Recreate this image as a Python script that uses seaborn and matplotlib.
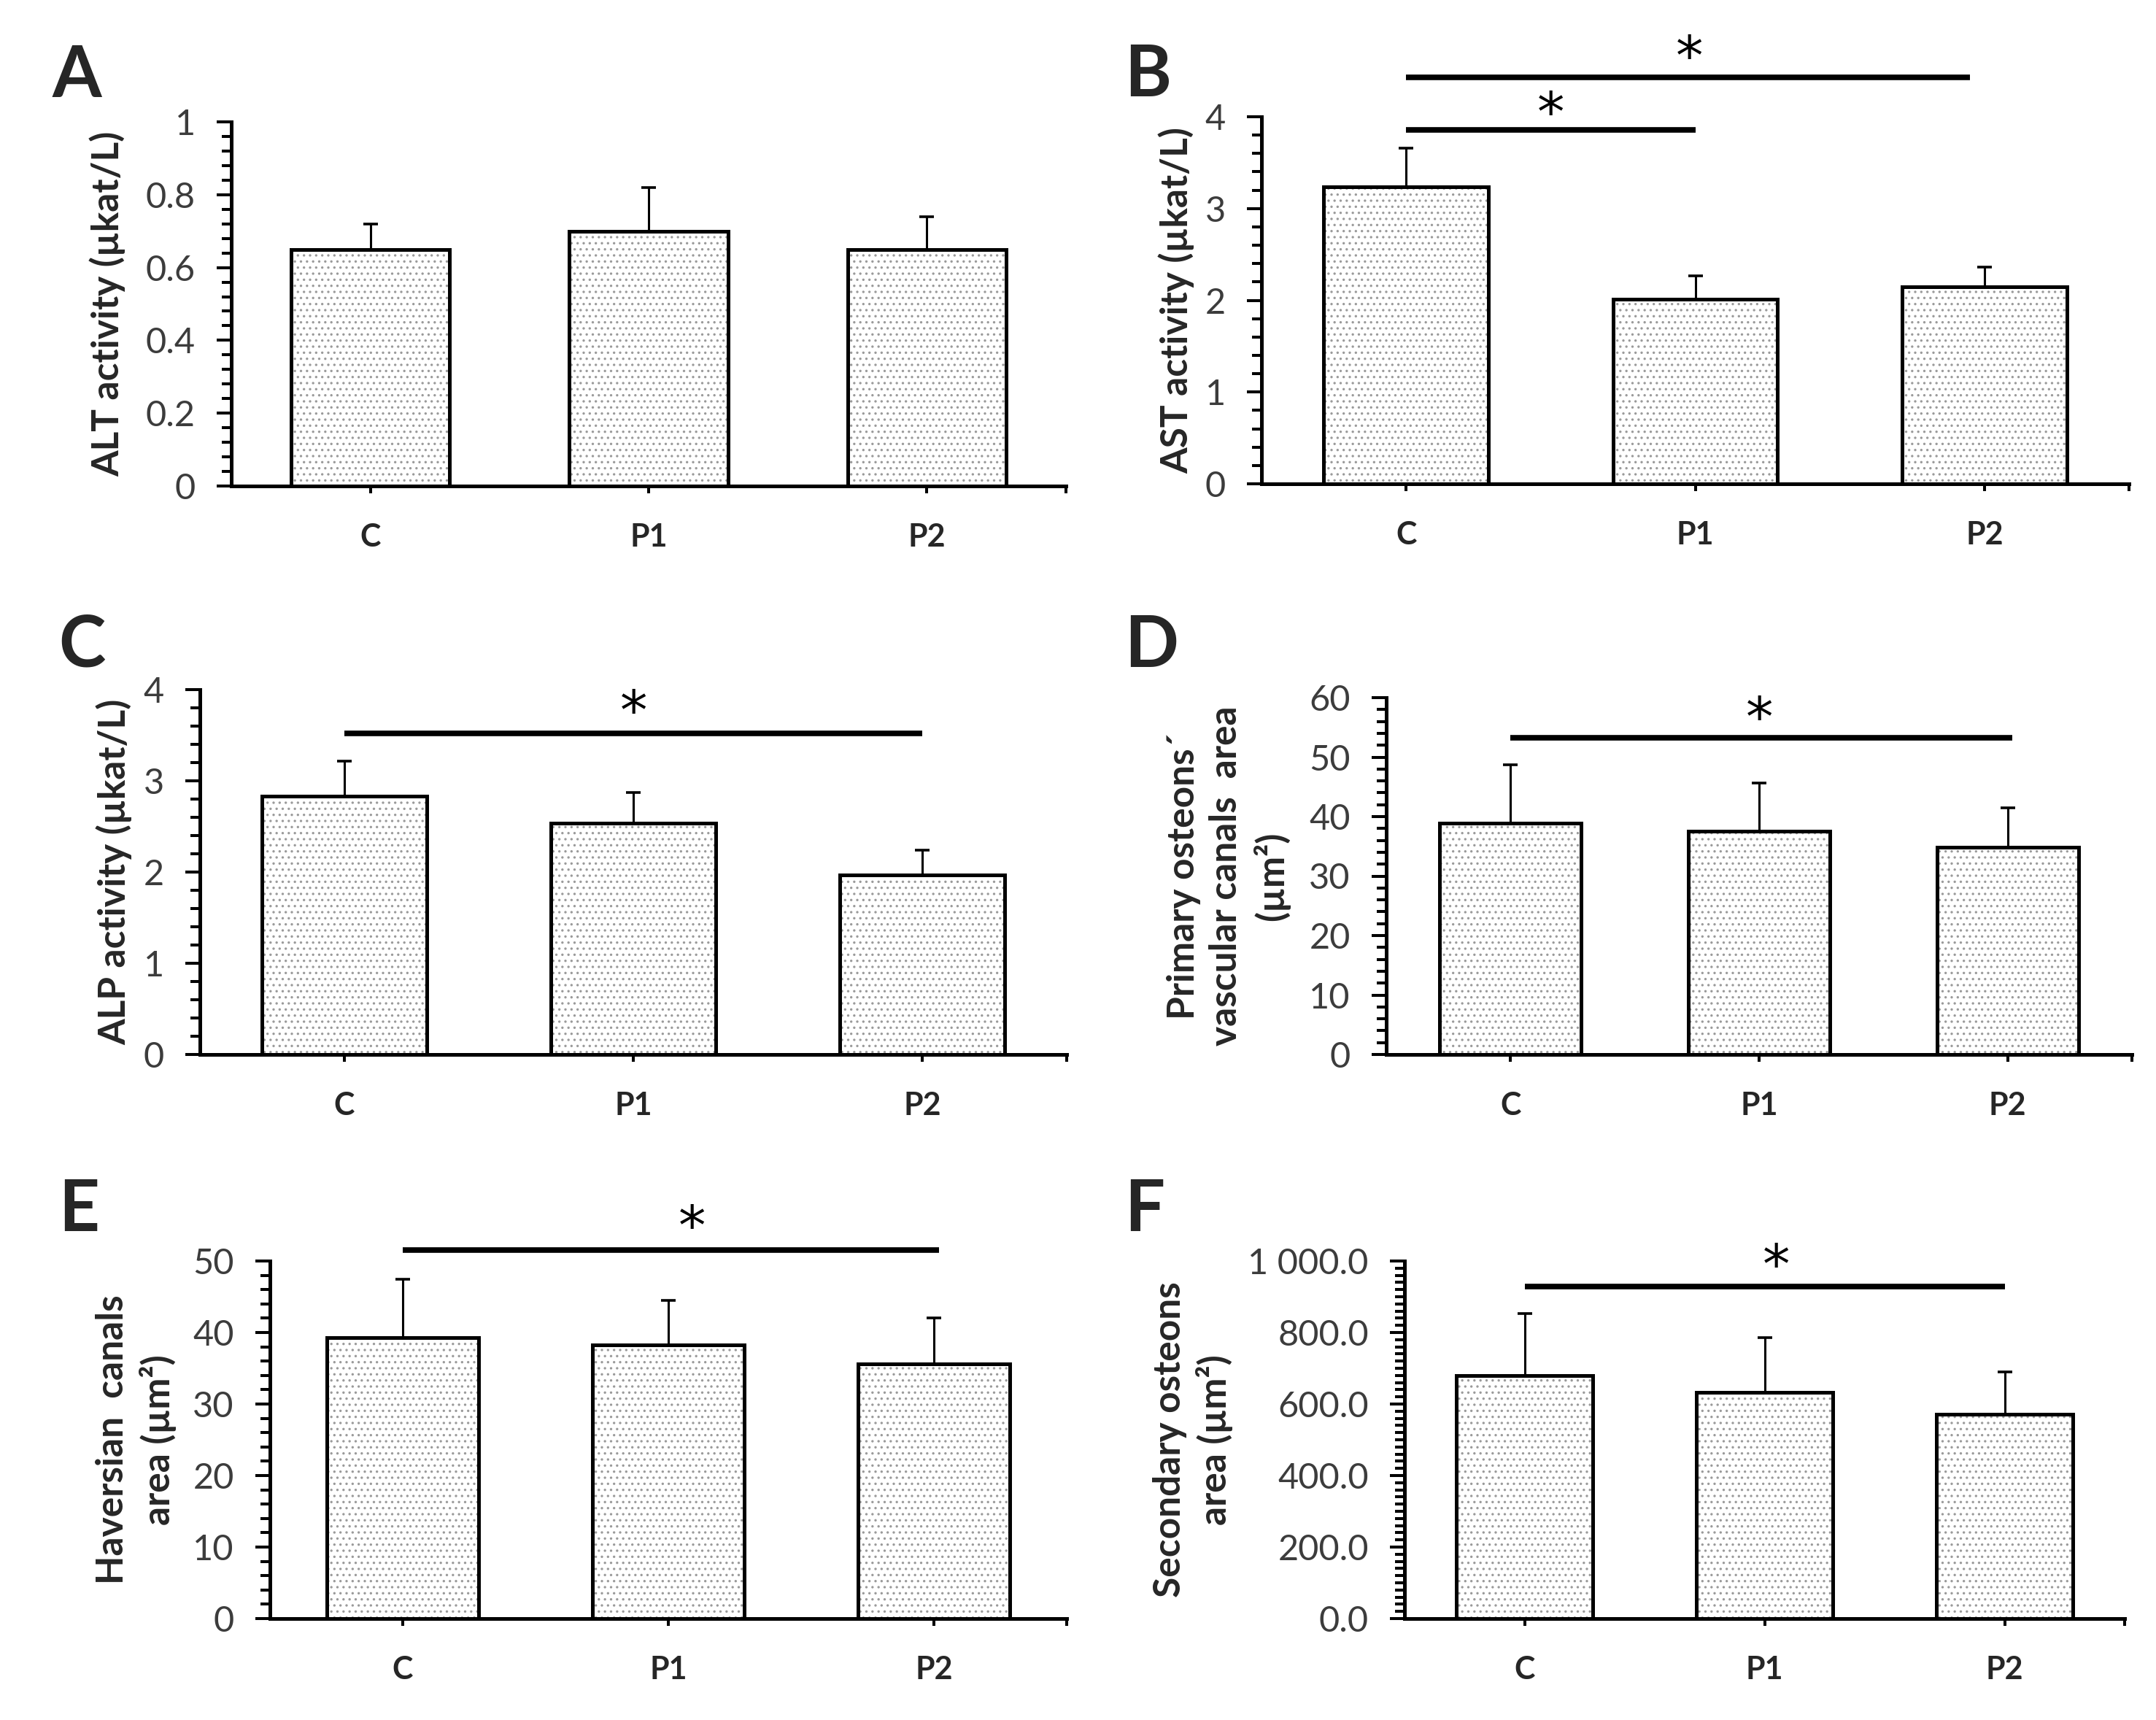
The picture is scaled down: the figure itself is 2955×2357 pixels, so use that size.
import numpy as np
import pandas as pd
import matplotlib
matplotlib.use("Agg")
import matplotlib.pyplot as plt
import seaborn as sns
from matplotlib import font_manager
from matplotlib.ticker import MultipleLocator, FixedLocator, FuncFormatter
from matplotlib.transforms import offset_copy

# ---------------- data ----------------
groups = ["C", "P1", "P2"]

alt_mean = [0.65, 0.70, 0.65]
alt_sd = [0.07, 0.12, 0.09]

ast_mean = [3.24, 2.01, 2.15]
ast_sd = [0.42, 0.26, 0.21]

alp_mean = [2.83, 2.54, 1.97]
alp_sd = [0.39, 0.33, 0.27]

pov_mean = [38.9, 37.5, 34.8]
pov_sd = [9.8, 8.1, 6.7]

hav_mean = [39.3, 38.3, 35.6]
hav_sd = [8.2, 6.2, 6.4]

sec_mean = [680, 632, 571]
sec_sd = [174, 154, 119]

# significance bars: (from group, to group, line y, star y, star x)
sig_B = [(0, 1, 3.86, 4.13, 0.5), (0, 1.95, 4.43, 4.74, 0.98)]
sig_C = [(0, 2, 3.52, 3.85, 1.0)]
sig_D = [(0, 2.02, 53.3, 58.0, 1.0)]
sig_E = [(0, 2.02, 51.5, 55.9, 1.09)]
sig_F = [(0, 2, 928, 1010, 1.05)]

# ---------------- style ----------------
sns.set_style("white")
names = {f.name for f in font_manager.fontManager.ttflist}
fam = "Lato" if "Lato" in names else "DejaVu Sans"
plt.rcParams["font.family"] = [fam, "DejaVu Sans"]
plt.rcParams["hatch.linewidth"] = 1.2

W, H = 2955, 2357
fig = plt.figure(figsize=(W / 100, H / 100), dpi=100)
fig.patch.set_facecolor("white")


def box(l, r, t, b):
    return [l / W, 1 - b / H, (r - l) / W, (b - t) / H]


def fmt_plain(v, pos):
    if abs(v - round(v)) < 1e-9:
        return f"{int(round(v))}"
    return f"{v:.1f}"


def fmt_F(v, pos):
    return f"{v:,.1f}".replace(",", " ")


panels = [
    dict(letter="A", mean=alt_mean, sd=alt_sd, ylabel="ALT activity (µkat/L)",
         ylim=(0, 1), major=0.2, minor=0.04, fmt=fmt_plain,
         box=(317, 1461, 167, 666), lpos=(72, 133), lx=-0.148, sig=[]),
    dict(letter="B", mean=ast_mean, sd=ast_sd, ylabel="AST activity (µkat/L)",
         ylim=(0, 4), major=1, minor=0.2, fmt=fmt_plain,
         box=(1729, 2918, 160, 663), lpos=(1541, 132), lx=-0.098, sig=sig_B),
    dict(letter="C", mean=alp_mean, sd=alp_sd, ylabel="ALP activity (µkat/L)",
         ylim=(0, 4), major=1, minor=0.2, fmt=fmt_plain,
         box=(274, 1462, 945, 1445), lpos=(80, 914), lx=-0.099, sig=sig_C),
    dict(letter="D", mean=pov_mean, sd=pov_sd,
         ylabel="Primary osteons´\nvascular canals  area\n(µm²)",
         ylim=(0, 60), major=10, minor=2, fmt=fmt_plain,
         box=(1900, 2922, 956, 1445), lpos=(1541, 914), lx=-0.212, sig=sig_D),
    dict(letter="E", mean=hav_mean, sd=hav_sd, ylabel="Haversian  canals\narea (µm²)",
         ylim=(0, 50), major=10, minor=2, fmt=fmt_plain,
         box=(370, 1462, 1728, 2218), lpos=(80, 1687), lx=-0.168, sig=sig_E),
    dict(letter="F", mean=sec_mean, sd=sec_sd, ylabel="Secondary osteons\narea (µm²)",
         ylim=(0, 1000), major=200, minor=20, fmt=fmt_F,
         box=(1925, 2912, 1728, 2218), lpos=(1541, 1687), lx=-0.294, sig=sig_F),
]

STAR_SIZE = 54

for P in panels:
    ax = fig.add_axes(box(*P["box"]))
    ax.set_facecolor("white")
    df = pd.DataFrame({"group": groups, "value": P["mean"]})

    # hatched fill
    sns.barplot(data=df, x="group", y="value", color="white", width=0.57,
                errorbar=None, ax=ax, zorder=2)
    bars = list(ax.patches)
    for p in bars:
        p.set_hatch("..")
        p.set_edgecolor("#9a9a9a")
        p.set_linewidth(0)
    # black outline
    sns.barplot(data=df, x="group", y="value", color="black", fill=False,
                width=0.57, errorbar=None, ax=ax, linewidth=3.6, zorder=4)

    xs = [p.get_x() + p.get_width() / 2 for p in bars]
    ax.errorbar(xs, P["mean"], yerr=[np.zeros(len(xs)), P["sd"]], fmt="none",
                ecolor="black", elinewidth=2.2, capsize=7.5, capthick=2.6, zorder=3)

    ax.set_xlim(-0.5, 2.5)
    ax.set_ylim(*P["ylim"])
    for s in ["top", "right"]:
        ax.spines[s].set_visible(False)
    for s in ["left", "bottom"]:
        ax.spines[s].set_linewidth(3.6)
        ax.spines[s].set_color("black")

    ax.yaxis.set_major_locator(MultipleLocator(P["major"]))
    ax.yaxis.set_minor_locator(MultipleLocator(P["minor"]))
    ax.yaxis.set_major_formatter(FuncFormatter(P["fmt"]))
    ax.xaxis.set_minor_locator(FixedLocator([2.5]))

    ax.tick_params(axis="y", which="major", direction="out", length=14.4, width=2.9,
                   labelsize=35, pad=21, labelcolor="#3c3c3c", color="black", left=True)
    ax.tick_params(axis="y", which="minor", direction="out", length=9.5, width=2.9,
                   color="black", left=True)
    ax.tick_params(axis="x", which="both", direction="out", length=7, width=2.9,
                   pad=29, labelsize=31, color="black", bottom=True)
    for lbl in ax.get_yticklabels():
        lbl.set_fontweight("normal")
    for lbl in ax.get_xticklabels():
        lbl.set_fontweight("bold")

    ax.set_xlabel("")
    ax.set_ylabel(P["ylabel"], fontsize=37, fontweight="bold", linespacing=1.3)
    ax.yaxis.set_label_coords(P["lx"], 0.5)
    ax.yaxis.label.set_va("center")

    # star glyph centre sits roughly half an em above the baseline
    star_tr = offset_copy(ax.transData, fig=fig, y=-0.47 * STAR_SIZE, units="points")
    for (x0, x1, yl, ys, xst) in P["sig"]:
        ax.plot([x0, x1], [yl, yl], color="black", lw=5.5, clip_on=False,
                solid_capstyle="butt", zorder=5)
        ax.text(xst, ys, "*", ha="center", va="baseline", fontsize=STAR_SIZE,
                family="DejaVu Sans", transform=star_tr, clip_on=False, color="black")

    fig.text(P["lpos"][0] / W, 1 - P["lpos"][1] / H, P["letter"], fontsize=70,
             fontweight="bold", ha="left", va="baseline")

fig.savefig("out.png", dpi=100, facecolor="white")
